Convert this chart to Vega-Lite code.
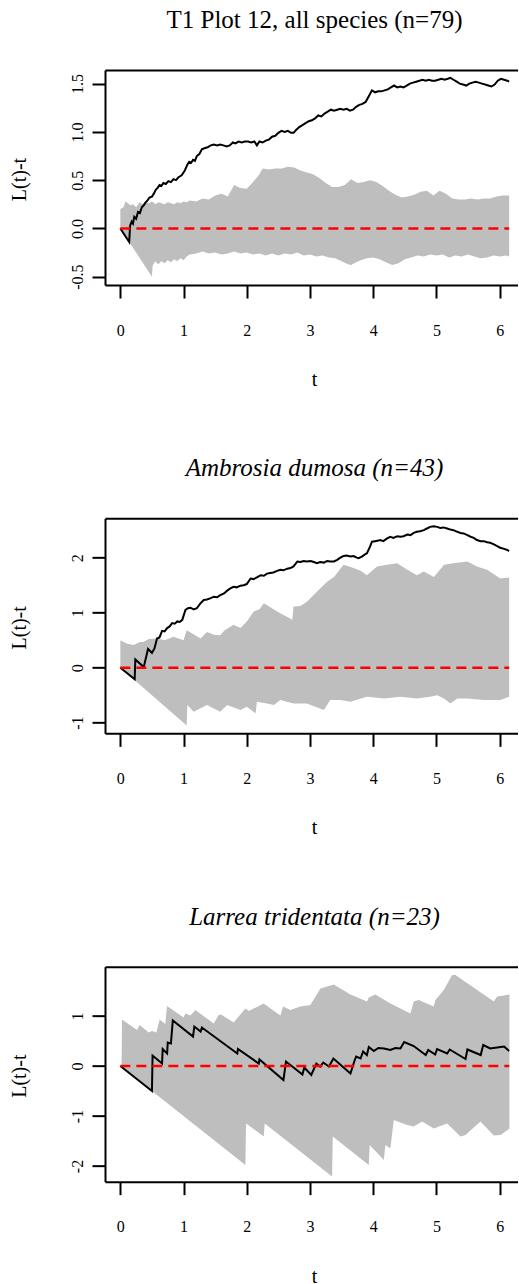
{
  "$schema": "https://vega.github.io/schema/vega-lite/v6.json",
  "autosize": {"type": "pad"},
  "padding": {"left": 9, "top": 8, "right": 0, "bottom": 0},
  "bounds": "flush",
  "spacing": 233.33,
  "config": {
    "view": {"stroke": null},
    "font": "Liberation Serif",
    "axis": {"labelFont": "Liberation Serif", "labelFontSize": 16, "labelColor": "black", "titleFont": "Liberation Serif", "titleFontSize": 20, "titleFontWeight": "normal", "titleColor": "black", "domainColor": "black", "domainWidth": 2, "tickColor": "black", "tickWidth": 2, "tickSize": 13, "grid": false, "labelFlush": false, "labelOverlap": false},
    "title": {"font": "Liberation Serif", "fontSize": 25, "fontWeight": "normal", "color": "black"}
  },
  "datasets": {
    "theo": [{"t":0,"v":0},{"t":6.15,"v":0}],
    "p1obs": [{"t":0,"v":0},{"t":0.14,"v":-0.14},{"t":0.155,"v":0.03},{"t":0.18,"v":0.07},{"t":0.2,"v":0.05},{"t":0.22,"v":0.12},{"t":0.25,"v":0.1},{"t":0.28,"v":0.17},{"t":0.31,"v":0.16},{"t":0.34,"v":0.22},{"t":0.37,"v":0.24},{"t":0.4,"v":0.27},{"t":0.43,"v":0.29},{"t":0.46,"v":0.32},{"t":0.5,"v":0.33},{"t":0.53,"v":0.36},{"t":0.56,"v":0.4},{"t":0.59,"v":0.42},{"t":0.62,"v":0.45},{"t":0.65,"v":0.44},{"t":0.68,"v":0.47},{"t":0.72,"v":0.46},{"t":0.76,"v":0.49},{"t":0.8,"v":0.48},{"t":0.84,"v":0.51},{"t":0.88,"v":0.5},{"t":0.92,"v":0.53},{"t":0.97,"v":0.55},{"t":1.02,"v":0.6},{"t":1.06,"v":0.66},{"t":1.09,"v":0.69},{"t":1.12,"v":0.68},{"t":1.15,"v":0.71},{"t":1.18,"v":0.7},{"t":1.21,"v":0.75},{"t":1.25,"v":0.77},{"t":1.29,"v":0.82},{"t":1.33,"v":0.83},{"t":1.38,"v":0.84},{"t":1.43,"v":0.86},{"t":1.48,"v":0.87},{"t":1.53,"v":0.86},{"t":1.58,"v":0.87},{"t":1.63,"v":0.86},{"t":1.68,"v":0.85},{"t":1.73,"v":0.86},{"t":1.78,"v":0.89},{"t":1.82,"v":0.88},{"t":1.87,"v":0.9},{"t":1.92,"v":0.89},{"t":1.97,"v":0.9},{"t":2.02,"v":0.9},{"t":2.07,"v":0.89},{"t":2.12,"v":0.9},{"t":2.16,"v":0.86},{"t":2.2,"v":0.9},{"t":2.25,"v":0.89},{"t":2.3,"v":0.91},{"t":2.35,"v":0.92},{"t":2.4,"v":0.95},{"t":2.45,"v":0.96},{"t":2.5,"v":0.99},{"t":2.55,"v":1.01},{"t":2.6,"v":1.0},{"t":2.65,"v":1.01},{"t":2.7,"v":0.99},{"t":2.74,"v":0.99},{"t":2.78,"v":1.02},{"t":2.83,"v":1.05},{"t":2.88,"v":1.07},{"t":2.93,"v":1.09},{"t":2.98,"v":1.11},{"t":3.03,"v":1.12},{"t":3.08,"v":1.14},{"t":3.13,"v":1.17},{"t":3.18,"v":1.16},{"t":3.23,"v":1.19},{"t":3.28,"v":1.21},{"t":3.33,"v":1.23},{"t":3.38,"v":1.22},{"t":3.43,"v":1.23},{"t":3.48,"v":1.24},{"t":3.53,"v":1.23},{"t":3.58,"v":1.24},{"t":3.63,"v":1.22},{"t":3.68,"v":1.23},{"t":3.73,"v":1.26},{"t":3.78,"v":1.28},{"t":3.83,"v":1.29},{"t":3.88,"v":1.31},{"t":3.93,"v":1.37},{"t":3.98,"v":1.43},{"t":4.03,"v":1.41},{"t":4.08,"v":1.42},{"t":4.13,"v":1.42},{"t":4.18,"v":1.43},{"t":4.23,"v":1.44},{"t":4.28,"v":1.46},{"t":4.33,"v":1.48},{"t":4.38,"v":1.46},{"t":4.43,"v":1.47},{"t":4.48,"v":1.46},{"t":4.53,"v":1.48},{"t":4.58,"v":1.5},{"t":4.63,"v":1.51},{"t":4.68,"v":1.52},{"t":4.73,"v":1.53},{"t":4.78,"v":1.54},{"t":4.83,"v":1.53},{"t":4.88,"v":1.54},{"t":4.93,"v":1.53},{"t":4.98,"v":1.53},{"t":5.03,"v":1.54},{"t":5.08,"v":1.55},{"t":5.13,"v":1.54},{"t":5.18,"v":1.55},{"t":5.22,"v":1.56},{"t":5.27,"v":1.54},{"t":5.32,"v":1.52},{"t":5.37,"v":1.5},{"t":5.42,"v":1.49},{"t":5.47,"v":1.48},{"t":5.52,"v":1.5},{"t":5.57,"v":1.51},{"t":5.62,"v":1.52},{"t":5.67,"v":1.51},{"t":5.72,"v":1.5},{"t":5.77,"v":1.49},{"t":5.82,"v":1.48},{"t":5.87,"v":1.47},{"t":5.92,"v":1.49},{"t":5.97,"v":1.53},{"t":6.02,"v":1.55},{"t":6.07,"v":1.54},{"t":6.12,"v":1.53},{"t":6.15,"v":1.52}],
    "p1hi": [{"t":0,"v":0.2},{"t":0.05,"v":0.22},{"t":0.08,"v":0.28},{"t":0.12,"v":0.26},{"t":0.16,"v":0.24},{"t":0.2,"v":0.25},{"t":0.25,"v":0.22},{"t":0.3,"v":0.27},{"t":0.35,"v":0.25},{"t":0.4,"v":0.28},{"t":0.45,"v":0.26},{"t":0.5,"v":0.28},{"t":0.56,"v":0.25},{"t":0.6,"v":0.27},{"t":0.65,"v":0.26},{"t":0.7,"v":0.25},{"t":0.75,"v":0.27},{"t":0.8,"v":0.26},{"t":0.85,"v":0.25},{"t":0.9,"v":0.27},{"t":0.95,"v":0.26},{"t":1.0,"v":0.28},{"t":1.05,"v":0.27},{"t":1.1,"v":0.29},{"t":1.2,"v":0.28},{"t":1.3,"v":0.31},{"t":1.4,"v":0.3},{"t":1.5,"v":0.34},{"t":1.6,"v":0.36},{"t":1.7,"v":0.33},{"t":1.8,"v":0.45},{"t":1.9,"v":0.42},{"t":2.0,"v":0.41},{"t":2.1,"v":0.48},{"t":2.2,"v":0.56},{"t":2.25,"v":0.62},{"t":2.35,"v":0.61},{"t":2.45,"v":0.62},{"t":2.55,"v":0.62},{"t":2.65,"v":0.64},{"t":2.75,"v":0.63},{"t":2.85,"v":0.6},{"t":2.95,"v":0.58},{"t":3.05,"v":0.56},{"t":3.15,"v":0.52},{"t":3.25,"v":0.47},{"t":3.35,"v":0.43},{"t":3.45,"v":0.43},{"t":3.55,"v":0.45},{"t":3.65,"v":0.51},{"t":3.75,"v":0.47},{"t":3.85,"v":0.48},{"t":3.95,"v":0.5},{"t":4.05,"v":0.48},{"t":4.15,"v":0.44},{"t":4.25,"v":0.39},{"t":4.35,"v":0.35},{"t":4.45,"v":0.32},{"t":4.55,"v":0.33},{"t":4.65,"v":0.35},{"t":4.75,"v":0.38},{"t":4.85,"v":0.39},{"t":4.95,"v":0.34},{"t":5.05,"v":0.39},{"t":5.15,"v":0.36},{"t":5.25,"v":0.31},{"t":5.35,"v":0.3},{"t":5.45,"v":0.3},{"t":5.55,"v":0.31},{"t":5.65,"v":0.3},{"t":5.75,"v":0.31},{"t":5.85,"v":0.31},{"t":5.95,"v":0.33},{"t":6.05,"v":0.34},{"t":6.15,"v":0.34}],
    "p1lo": [{"t":0,"v":0},{"t":0.5,"v":-0.5},{"t":0.51,"v":-0.39},{"t":0.55,"v":-0.34},{"t":0.6,"v":-0.37},{"t":0.65,"v":-0.34},{"t":0.7,"v":-0.36},{"t":0.75,"v":-0.33},{"t":0.8,"v":-0.35},{"t":0.85,"v":-0.32},{"t":0.9,"v":-0.34},{"t":0.95,"v":-0.31},{"t":1.0,"v":-0.33},{"t":1.05,"v":-0.29},{"t":1.1,"v":-0.27},{"t":1.2,"v":-0.26},{"t":1.3,"v":-0.24},{"t":1.4,"v":-0.26},{"t":1.5,"v":-0.25},{"t":1.6,"v":-0.27},{"t":1.7,"v":-0.26},{"t":1.8,"v":-0.24},{"t":1.9,"v":-0.26},{"t":2.0,"v":-0.25},{"t":2.1,"v":-0.27},{"t":2.2,"v":-0.26},{"t":2.3,"v":-0.28},{"t":2.4,"v":-0.26},{"t":2.5,"v":-0.28},{"t":2.6,"v":-0.26},{"t":2.7,"v":-0.27},{"t":2.8,"v":-0.25},{"t":2.9,"v":-0.28},{"t":3.0,"v":-0.27},{"t":3.1,"v":-0.29},{"t":3.2,"v":-0.28},{"t":3.3,"v":-0.3},{"t":3.4,"v":-0.31},{"t":3.5,"v":-0.34},{"t":3.6,"v":-0.37},{"t":3.65,"v":-0.38},{"t":3.7,"v":-0.36},{"t":3.8,"v":-0.33},{"t":3.9,"v":-0.31},{"t":4.0,"v":-0.3},{"t":4.1,"v":-0.32},{"t":4.2,"v":-0.35},{"t":4.3,"v":-0.38},{"t":4.4,"v":-0.36},{"t":4.5,"v":-0.32},{"t":4.6,"v":-0.3},{"t":4.7,"v":-0.28},{"t":4.8,"v":-0.29},{"t":4.9,"v":-0.27},{"t":5.0,"v":-0.28},{"t":5.1,"v":-0.27},{"t":5.2,"v":-0.3},{"t":5.3,"v":-0.28},{"t":5.4,"v":-0.29},{"t":5.5,"v":-0.27},{"t":5.6,"v":-0.29},{"t":5.7,"v":-0.31},{"t":5.8,"v":-0.3},{"t":5.9,"v":-0.28},{"t":6.0,"v":-0.29},{"t":6.1,"v":-0.28},{"t":6.15,"v":-0.29}],
    "p2obs": [{"t":0,"v":0},{"t":0.227,"v":-0.21},{"t":0.237,"v":0.15},{"t":0.37,"v":0.01},{"t":0.438,"v":0.34},{"t":0.5,"v":0.27},{"t":0.54,"v":0.35},{"t":0.58,"v":0.53},{"t":0.62,"v":0.55},{"t":0.66,"v":0.67},{"t":0.7,"v":0.66},{"t":0.74,"v":0.72},{"t":0.78,"v":0.75},{"t":0.82,"v":0.81},{"t":0.86,"v":0.8},{"t":0.9,"v":0.84},{"t":0.94,"v":0.83},{"t":0.98,"v":0.87},{"t":1.03,"v":1.05},{"t":1.07,"v":1.08},{"t":1.11,"v":1.09},{"t":1.16,"v":1.06},{"t":1.21,"v":1.08},{"t":1.26,"v":1.16},{"t":1.32,"v":1.23},{"t":1.37,"v":1.24},{"t":1.42,"v":1.26},{"t":1.48,"v":1.29},{"t":1.53,"v":1.28},{"t":1.58,"v":1.32},{"t":1.64,"v":1.35},{"t":1.69,"v":1.4},{"t":1.74,"v":1.44},{"t":1.79,"v":1.47},{"t":1.84,"v":1.46},{"t":1.9,"v":1.49},{"t":1.95,"v":1.5},{"t":2.0,"v":1.52},{"t":2.06,"v":1.62},{"t":2.11,"v":1.61},{"t":2.16,"v":1.64},{"t":2.22,"v":1.68},{"t":2.27,"v":1.67},{"t":2.32,"v":1.71},{"t":2.37,"v":1.72},{"t":2.42,"v":1.73},{"t":2.48,"v":1.76},{"t":2.53,"v":1.78},{"t":2.58,"v":1.77},{"t":2.64,"v":1.8},{"t":2.69,"v":1.81},{"t":2.74,"v":1.84},{"t":2.8,"v":1.93},{"t":2.85,"v":1.92},{"t":2.9,"v":1.94},{"t":2.95,"v":1.93},{"t":3.01,"v":1.94},{"t":3.06,"v":1.92},{"t":3.11,"v":1.9},{"t":3.16,"v":1.92},{"t":3.22,"v":1.91},{"t":3.27,"v":1.94},{"t":3.32,"v":1.93},{"t":3.38,"v":1.93},{"t":3.43,"v":1.96},{"t":3.48,"v":2.0},{"t":3.53,"v":2.03},{"t":3.58,"v":2.04},{"t":3.64,"v":2.02},{"t":3.69,"v":2.03},{"t":3.74,"v":2.0},{"t":3.77,"v":1.99},{"t":3.82,"v":2.02},{"t":3.87,"v":2.06},{"t":3.9,"v":2.08},{"t":3.95,"v":2.2},{"t":3.98,"v":2.29},{"t":4.03,"v":2.3},{"t":4.08,"v":2.31},{"t":4.11,"v":2.32},{"t":4.16,"v":2.3},{"t":4.22,"v":2.35},{"t":4.27,"v":2.38},{"t":4.32,"v":2.36},{"t":4.38,"v":2.39},{"t":4.43,"v":2.38},{"t":4.48,"v":2.39},{"t":4.54,"v":2.42},{"t":4.59,"v":2.41},{"t":4.64,"v":2.45},{"t":4.69,"v":2.47},{"t":4.74,"v":2.48},{"t":4.8,"v":2.5},{"t":4.85,"v":2.53},{"t":4.9,"v":2.56},{"t":4.96,"v":2.57},{"t":5.01,"v":2.56},{"t":5.06,"v":2.54},{"t":5.11,"v":2.55},{"t":5.17,"v":2.53},{"t":5.22,"v":2.51},{"t":5.27,"v":2.5},{"t":5.33,"v":2.47},{"t":5.38,"v":2.45},{"t":5.43,"v":2.44},{"t":5.49,"v":2.41},{"t":5.54,"v":2.38},{"t":5.59,"v":2.36},{"t":5.64,"v":2.32},{"t":5.7,"v":2.3},{"t":5.75,"v":2.3},{"t":5.8,"v":2.28},{"t":5.85,"v":2.27},{"t":5.91,"v":2.24},{"t":5.96,"v":2.21},{"t":6.01,"v":2.18},{"t":6.07,"v":2.16},{"t":6.12,"v":2.14},{"t":6.15,"v":2.12}],
    "p2hi": [{"t":0,"v":0.5},{"t":0.1,"v":0.44},{"t":0.21,"v":0.41},{"t":0.3,"v":0.46},{"t":0.37,"v":0.47},{"t":0.45,"v":0.52},{"t":0.58,"v":0.53},{"t":0.7,"v":0.5},{"t":0.84,"v":0.56},{"t":1.0,"v":0.5},{"t":1.05,"v":0.68},{"t":1.27,"v":0.53},{"t":1.37,"v":0.65},{"t":1.48,"v":0.6},{"t":1.58,"v":0.59},{"t":1.65,"v":0.68},{"t":1.79,"v":0.78},{"t":1.9,"v":0.72},{"t":2.0,"v":0.84},{"t":2.11,"v":1.02},{"t":2.2,"v":1.06},{"t":2.27,"v":1.17},{"t":2.48,"v":1.02},{"t":2.72,"v":0.87},{"t":2.74,"v":1.11},{"t":2.85,"v":1.12},{"t":2.95,"v":1.2},{"t":3.11,"v":1.38},{"t":3.27,"v":1.56},{"t":3.38,"v":1.65},{"t":3.53,"v":1.87},{"t":3.69,"v":1.81},{"t":3.8,"v":1.76},{"t":3.9,"v":1.68},{"t":4.06,"v":1.84},{"t":4.22,"v":1.87},{"t":4.38,"v":1.9},{"t":4.54,"v":1.78},{"t":4.69,"v":1.68},{"t":4.8,"v":1.75},{"t":4.96,"v":1.65},{"t":5.12,"v":1.87},{"t":5.27,"v":1.9},{"t":5.49,"v":1.93},{"t":5.64,"v":1.84},{"t":5.8,"v":1.78},{"t":6.01,"v":1.62},{"t":6.15,"v":1.64}],
    "p2lo": [{"t":0,"v":0},{"t":1.05,"v":-1.05},{"t":1.06,"v":-0.68},{"t":1.16,"v":-0.8},{"t":1.27,"v":-0.74},{"t":1.37,"v":-0.68},{"t":1.58,"v":-0.8},{"t":1.69,"v":-0.68},{"t":1.9,"v":-0.77},{"t":2.0,"v":-0.71},{"t":2.14,"v":-0.83},{"t":2.16,"v":-0.62},{"t":2.32,"v":-0.65},{"t":2.43,"v":-0.68},{"t":2.53,"v":-0.59},{"t":2.74,"v":-0.65},{"t":2.95,"v":-0.65},{"t":3.22,"v":-0.77},{"t":3.32,"v":-0.59},{"t":3.48,"v":-0.59},{"t":3.64,"v":-0.62},{"t":3.9,"v":-0.53},{"t":4.17,"v":-0.56},{"t":4.43,"v":-0.53},{"t":4.69,"v":-0.56},{"t":4.9,"v":-0.53},{"t":5.01,"v":-0.5},{"t":5.12,"v":-0.56},{"t":5.22,"v":-0.65},{"t":5.33,"v":-0.56},{"t":5.49,"v":-0.56},{"t":5.75,"v":-0.59},{"t":6.01,"v":-0.59},{"t":6.15,"v":-0.53}],
    "p3obs": [{"t":0,"v":0},{"t":0.5,"v":-0.5},{"t":0.51,"v":0.21},{"t":0.66,"v":0.05},{"t":0.67,"v":0.34},{"t":0.74,"v":0.25},{"t":0.75,"v":0.47},{"t":0.8,"v":0.45},{"t":0.83,"v":0.91},{"t":1.15,"v":0.59},{"t":1.17,"v":0.79},{"t":1.27,"v":0.69},{"t":1.29,"v":0.77},{"t":1.85,"v":0.25},{"t":1.86,"v":0.34},{"t":2.19,"v":0.05},{"t":2.2,"v":0.13},{"t":2.58,"v":-0.28},{"t":2.62,"v":0.09},{"t":2.88,"v":-0.17},{"t":2.91,"v":-0.03},{"t":3.02,"v":-0.18},{"t":3.1,"v":0.05},{"t":3.16,"v":-0.01},{"t":3.21,"v":0.07},{"t":3.3,"v":-0.01},{"t":3.37,"v":0.15},{"t":3.64,"v":-0.15},{"t":3.7,"v":0.09},{"t":3.73,"v":0.19},{"t":3.8,"v":0.15},{"t":3.84,"v":0.29},{"t":3.9,"v":0.22},{"t":3.93,"v":0.38},{"t":4.01,"v":0.3},{"t":4.08,"v":0.36},{"t":4.17,"v":0.35},{"t":4.27,"v":0.32},{"t":4.35,"v":0.36},{"t":4.43,"v":0.35},{"t":4.49,"v":0.48},{"t":4.64,"v":0.4},{"t":4.83,"v":0.22},{"t":4.87,"v":0.32},{"t":4.98,"v":0.23},{"t":5.01,"v":0.34},{"t":5.17,"v":0.25},{"t":5.21,"v":0.33},{"t":5.46,"v":0.14},{"t":5.49,"v":0.33},{"t":5.7,"v":0.22},{"t":5.74,"v":0.42},{"t":5.85,"v":0.35},{"t":5.96,"v":0.37},{"t":6.07,"v":0.39},{"t":6.15,"v":0.3}],
    "p3hi": [{"t":0.02,"v":0},{"t":0.026,"v":0.93},{"t":0.264,"v":0.72},{"t":0.306,"v":0.82},{"t":0.448,"v":0.67},{"t":0.501,"v":0.7},{"t":0.57,"v":0.67},{"t":0.622,"v":0.93},{"t":0.712,"v":0.84},{"t":0.738,"v":1.2},{"t":1.002,"v":0.97},{"t":1.028,"v":1.05},{"t":1.108,"v":1.01},{"t":1.187,"v":1.12},{"t":1.477,"v":0.85},{"t":1.556,"v":1.02},{"t":1.593,"v":1.03},{"t":1.793,"v":0.87},{"t":1.978,"v":1.15},{"t":2.031,"v":1.1},{"t":2.268,"v":1.25},{"t":2.532,"v":1.01},{"t":2.574,"v":1.19},{"t":2.69,"v":1.12},{"t":2.848,"v":1.19},{"t":3.006,"v":1.22},{"t":3.165,"v":1.55},{"t":3.376,"v":1.63},{"t":3.639,"v":1.43},{"t":3.903,"v":1.29},{"t":3.929,"v":1.37},{"t":4.035,"v":1.43},{"t":4.272,"v":1.25},{"t":4.589,"v":1.05},{"t":4.641,"v":1.29},{"t":4.72,"v":1.32},{"t":4.958,"v":1.19},{"t":4.984,"v":1.32},{"t":5.116,"v":1.52},{"t":5.248,"v":1.82},{"t":5.301,"v":1.82},{"t":5.907,"v":1.29},{"t":5.96,"v":1.39},{"t":6.065,"v":1.41},{"t":6.155,"v":1.43}],
    "p3lo": [{"t":0,"v":0},{"t":1.978,"v":-1.98},{"t":1.988,"v":-1.15},{"t":2.268,"v":-1.41},{"t":2.284,"v":-1.15},{"t":3.349,"v":-2.21},{"t":3.36,"v":-1.41},{"t":3.929,"v":-1.98},{"t":3.945,"v":-1.58},{"t":4.167,"v":-1.88},{"t":4.193,"v":-1.58},{"t":4.272,"v":-1.65},{"t":4.325,"v":-1.08},{"t":4.536,"v":-1.18},{"t":4.641,"v":-1.21},{"t":4.773,"v":-1.11},{"t":4.958,"v":-1.25},{"t":5.169,"v":-1.15},{"t":5.38,"v":-1.41},{"t":5.459,"v":-1.38},{"t":5.696,"v":-1.11},{"t":5.749,"v":-1.18},{"t":5.907,"v":-1.39},{"t":6.013,"v":-1.38},{"t":6.092,"v":-1.31},{"t":6.155,"v":-1.25}]
  },
  "vconcat": [
    {
      "width": 413, "height": 215,
      "title": {"text": "T1 Plot 12, all species (n=79)", "offset": 17, "baseline": "alphabetic", "dx": 3},
      "resolve": {"axis": {"x": "independent"}},
      "encoding": {
        "y": {"field": "v", "type": "quantitative", "title": "L(t)-t", "scale": {"domain": [-0.586, 1.641], "nice": false, "zero": false}, "axis": {"values": [-0.5,0,0.5,1,1.5], "format": ".1f", "labelExpr": "replace(datum.label, '\u2212', '-')", "labelFont": "Liberation Serif", "labelFontSize": 16, "titleFont": "Liberation Serif", "titleFontSize": 20, "labelAngle": 270, "labelAlign": "center", "labelBaseline": "alphabetic", "labelPadding": 10, "titleAngle": 270, "titleX": -79.5, "titleY": 109, "titleAlign": "center", "titleBaseline": "alphabetic"}}
      },
      "layer": [
        {"data": {"name": "p1hi"}, "mark": {"type": "area", "color": "#bebebe", "opacity": 1}, "encoding": {"x": {"field": "t", "type": "quantitative", "title": "t", "scale": {"domain": [-0.2425, 6.29], "nice": false, "zero": false}, "axis": {"values": [0,1,2,3,4,5,6], "labelFont": "Liberation Serif", "labelFontSize": 16, "titleFont": "Liberation Serif", "titleFontSize": 20, "labelPadding": 37, "labelBaseline": "alphabetic", "titleX": 209, "titleY": 100.6, "titleAlign": "center", "titleBaseline": "alphabetic"}}, "y2": {"datum": -0.015}}},
        {"data": {"name": "p1lo"}, "mark": {"type": "area", "color": "#bebebe", "opacity": 1}, "encoding": {"x": {"field": "t", "type": "quantitative", "scale": {"domain": [-0.2425, 6.29], "nice": false, "zero": false}, "axis": null}, "y2": {"datum": 0}}},
        {"data": {"name": "p1obs"}, "mark": {"type": "line", "color": "black", "strokeWidth": 2}, "encoding": {"x": {"field": "t", "type": "quantitative", "scale": {"domain": [-0.2425, 6.29], "nice": false, "zero": false}, "axis": null}}},
        {"data": {"name": "theo"}, "mark": {"type": "line", "color": "#ff0000", "strokeWidth": 2.5, "strokeDash": [10, 6]}, "encoding": {"x": {"field": "t", "type": "quantitative", "scale": {"domain": [-0.2425, 6.29], "nice": false, "zero": false}, "axis": {"orient": "top", "labels": false, "ticks": false, "title": null, "domain": true}}}}
      ]
    },
    {
      "width": 413, "height": 215,
      "title": {"text": "Ambrosia dumosa (n=43)", "fontStyle": "italic", "offset": 17, "baseline": "alphabetic", "dx": 3},
      "resolve": {"axis": {"x": "independent"}},
      "encoding": {
        "y": {"field": "v", "type": "quantitative", "title": "L(t)-t", "scale": {"domain": [-1.194, 2.715], "nice": false, "zero": false}, "axis": {"values": [-1,0,1,2], "format": "d", "labelExpr": "replace(datum.label, '\u2212', '-')", "labelFont": "Liberation Serif", "labelFontSize": 16, "titleFont": "Liberation Serif", "titleFontSize": 20, "labelAngle": 270, "labelAlign": "center", "labelBaseline": "alphabetic", "labelPadding": 10, "titleAngle": 270, "titleX": -79.5, "titleY": 109, "titleAlign": "center", "titleBaseline": "alphabetic"}}
      },
      "layer": [
        {"data": {"name": "p2hi"}, "mark": {"type": "area", "color": "#bebebe", "opacity": 1}, "encoding": {"x": {"field": "t", "type": "quantitative", "title": "t", "scale": {"domain": [-0.2425, 6.29], "nice": false, "zero": false}, "axis": {"values": [0,1,2,3,4,5,6], "labelFont": "Liberation Serif", "labelFontSize": 16, "titleFont": "Liberation Serif", "titleFontSize": 20, "labelPadding": 37, "labelBaseline": "alphabetic", "titleX": 209, "titleY": 100.6, "titleAlign": "center", "titleBaseline": "alphabetic"}}, "y2": {"datum": -0.015}}},
        {"data": {"name": "p2lo"}, "mark": {"type": "area", "color": "#bebebe", "opacity": 1}, "encoding": {"x": {"field": "t", "type": "quantitative", "scale": {"domain": [-0.2425, 6.29], "nice": false, "zero": false}, "axis": null}, "y2": {"datum": 0}}},
        {"data": {"name": "p2obs"}, "mark": {"type": "line", "color": "black", "strokeWidth": 2}, "encoding": {"x": {"field": "t", "type": "quantitative", "scale": {"domain": [-0.2425, 6.29], "nice": false, "zero": false}, "axis": null}}},
        {"data": {"name": "theo"}, "mark": {"type": "line", "color": "#ff0000", "strokeWidth": 2.5, "strokeDash": [10, 6]}, "encoding": {"x": {"field": "t", "type": "quantitative", "scale": {"domain": [-0.2425, 6.29], "nice": false, "zero": false}, "axis": {"orient": "top", "labels": false, "ticks": false, "title": null, "domain": true}}}}
      ]
    },
    {
      "width": 413, "height": 215,
      "title": {"text": "Larrea tridentata (n=23)", "fontStyle": "italic", "offset": 17, "baseline": "alphabetic", "dx": 3},
      "resolve": {"axis": {"x": "independent"}},
      "encoding": {
        "y": {"field": "v", "type": "quantitative", "title": "L(t)-t", "scale": {"domain": [-2.313, 1.987], "nice": false, "zero": false}, "axis": {"values": [-2,-1,0,1], "format": "d", "labelExpr": "replace(datum.label, '\u2212', '-')", "labelFont": "Liberation Serif", "labelFontSize": 16, "titleFont": "Liberation Serif", "titleFontSize": 20, "labelAngle": 270, "labelAlign": "center", "labelBaseline": "alphabetic", "labelPadding": 10, "titleAngle": 270, "titleX": -79.5, "titleY": 109, "titleAlign": "center", "titleBaseline": "alphabetic"}}
      },
      "layer": [
        {"data": {"name": "p3hi"}, "mark": {"type": "area", "color": "#bebebe", "opacity": 1}, "encoding": {"x": {"field": "t", "type": "quantitative", "title": "t", "scale": {"domain": [-0.2425, 6.29], "nice": false, "zero": false}, "axis": {"values": [0,1,2,3,4,5,6], "labelFont": "Liberation Serif", "labelFontSize": 16, "titleFont": "Liberation Serif", "titleFontSize": 20, "labelPadding": 37, "labelBaseline": "alphabetic", "titleX": 209, "titleY": 100.6, "titleAlign": "center", "titleBaseline": "alphabetic"}}, "y2": {"datum": -0.015}}},
        {"data": {"name": "p3lo"}, "mark": {"type": "area", "color": "#bebebe", "opacity": 1}, "encoding": {"x": {"field": "t", "type": "quantitative", "scale": {"domain": [-0.2425, 6.29], "nice": false, "zero": false}, "axis": null}, "y2": {"datum": 0}}},
        {"data": {"name": "p3obs"}, "mark": {"type": "line", "color": "black", "strokeWidth": 2}, "encoding": {"x": {"field": "t", "type": "quantitative", "scale": {"domain": [-0.2425, 6.29], "nice": false, "zero": false}, "axis": null}}},
        {"data": {"name": "theo"}, "mark": {"type": "line", "color": "#ff0000", "strokeWidth": 2.5, "strokeDash": [10, 6]}, "encoding": {"x": {"field": "t", "type": "quantitative", "scale": {"domain": [-0.2425, 6.29], "nice": false, "zero": false}, "axis": {"orient": "top", "labels": false, "ticks": false, "title": null, "domain": true}}}}
      ]
    }
  ]
}
